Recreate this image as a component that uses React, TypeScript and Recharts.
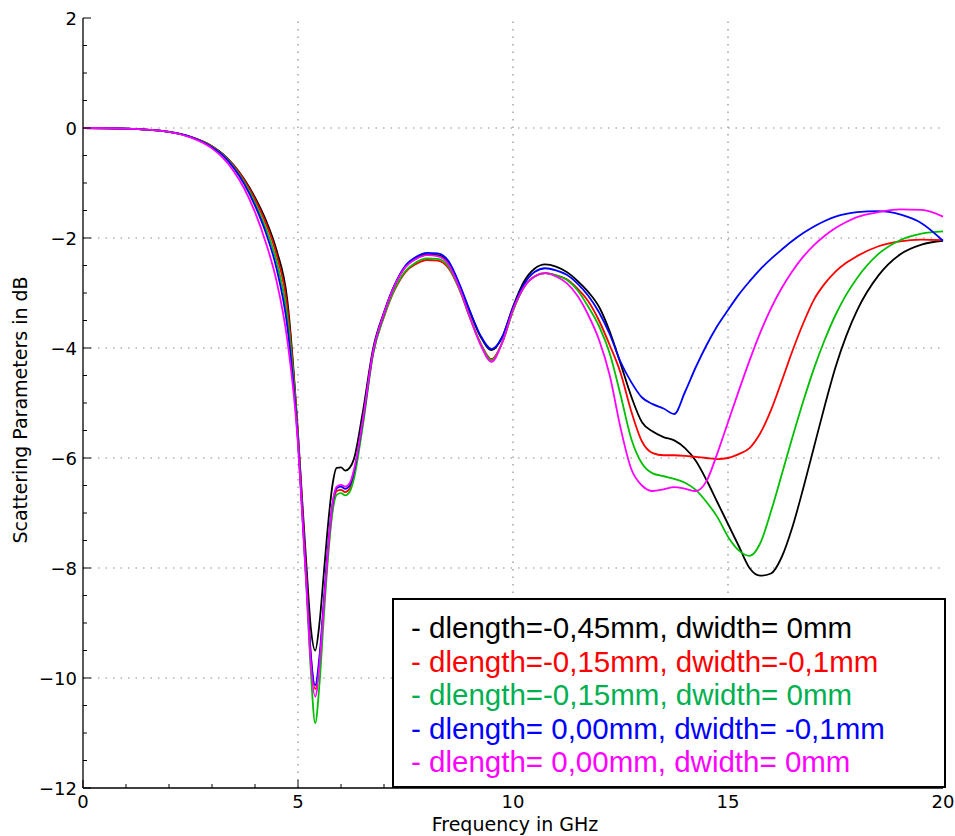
import React from 'react';
import { LineChart, Line, XAxis, YAxis, ReferenceLine, Legend } from 'recharts';

const FREQ = [0, 1, 2, 2.5, 3, 3.25, 3.5, 3.75, 4, 4.25, 4.5, 4.75, 5, 5.1, 5.2, 5.3, 5.4, 5.5, 5.6, 5.7, 5.8, 5.9, 6, 6.1, 6.2, 6.3, 6.5, 6.75, 7, 7.25, 7.5, 7.75, 8, 8.25, 8.5, 8.75, 9, 9.25, 9.5, 9.75, 10, 10.25, 10.5, 10.75, 11, 11.25, 11.5, 11.75, 12, 12.25, 12.5, 12.75, 13, 13.25, 13.5, 13.75, 14, 14.25, 14.5, 14.75, 15, 15.25, 15.5, 15.75, 16, 16.25, 16.5, 16.75, 17, 17.25, 17.5, 17.75, 18, 18.5, 19, 19.5, 20];

const S_BLACK = [0, -0.01, -0.07, -0.16, -0.33, -0.47, -0.67, -0.93, -1.26, -1.67, -2.22, -3.12, -5.55,
  -6.8, -8.0, -9.1, -9.5, -9.0, -8.1, -7.2, -6.5, -6.18, -6.17, -6.23, -6.18, -6.02,
  -5.2, -4.0, -3.35, -2.85, -2.52, -2.37, -2.3, -2.31, -2.45, -2.85, -3.35, -3.8, -4.04, -3.8, -3.25, -2.8, -2.56, -2.48, -2.52,
  -2.62, -2.78, -2.98, -3.25, -3.7, -4.28, -4.88, -5.35, -5.52, -5.62, -5.68, -5.82, -6.05, -6.4, -6.8, -7.2,
  -7.6, -8.0, -8.14, -8.1, -7.8, -7.25, -6.55, -5.8, -5.05, -4.35, -3.78, -3.32,
  -2.68, -2.3, -2.12, -2.05];

const S_RED = [0, -0.01, -0.07, -0.16, -0.33, -0.48, -0.68, -0.95, -1.3, -1.73, -2.3, -3.25, -5.6,
  -6.9, -8.2, -9.6, -10.2, -9.7, -8.7, -7.7, -6.95, -6.6, -6.58, -6.62, -6.56, -6.3,
  -5.4, -4.08, -3.43, -2.94, -2.62, -2.47, -2.4, -2.41, -2.55, -2.93, -3.45, -3.92, -4.2, -3.9, -3.32, -2.9, -2.7, -2.64, -2.68,
  -2.75, -2.92, -3.15, -3.5, -3.95, -4.45, -5.15, -5.7, -5.91, -5.95, -5.95, -5.96, -5.98, -6.0, -6.02, -6.0,
  -5.93, -5.82, -5.55, -5.13, -4.6, -4.05, -3.55, -3.12, -2.83, -2.61, -2.45, -2.33,
  -2.15, -2.06, -2.03, -2.04];

const S_GREEN = [0, -0.01, -0.07, -0.16, -0.34, -0.49, -0.7, -0.99, -1.36, -1.82, -2.42, -3.42, -5.65,
  -7.0, -8.4, -9.9, -10.82, -10.1, -8.9, -7.8, -7.0, -6.67, -6.64, -6.68, -6.62, -6.38,
  -5.45, -4.1, -3.42, -2.92, -2.6, -2.44, -2.37, -2.38, -2.52, -2.92, -3.45, -3.93, -4.22, -3.9, -3.32, -2.9, -2.7, -2.64, -2.68,
  -2.76, -2.95, -3.25, -3.6, -4.1, -4.85, -5.65, -6.1, -6.28, -6.33, -6.38, -6.45, -6.58, -6.8, -7.07, -7.43,
  -7.68, -7.78, -7.55, -6.97, -6.3, -5.62, -4.97, -4.37, -3.85, -3.4, -3.03, -2.73,
  -2.29, -2.04, -1.92, -1.88];

const S_BLUE = [0, -0.01, -0.07, -0.16, -0.35, -0.5, -0.72, -1.02, -1.41, -1.9, -2.55, -3.6, -5.7,
  -7.0, -8.3, -9.6, -10.13, -9.6, -8.6, -7.6, -6.85, -6.55, -6.52, -6.56, -6.5, -6.25,
  -5.35, -4.05, -3.37, -2.85, -2.5, -2.34, -2.27, -2.28, -2.42, -2.83, -3.33, -3.78, -4.02, -3.8, -3.27, -2.85, -2.62, -2.55, -2.59,
  -2.67, -2.83, -3.05, -3.35, -3.75, -4.25, -4.62, -4.9, -5.02, -5.1, -5.2, -4.8, -4.35, -3.95, -3.6, -3.31,
  -3.03, -2.79, -2.57, -2.38, -2.21, -2.05, -1.91, -1.79, -1.69, -1.61, -1.56, -1.53,
  -1.51, -1.57, -1.73, -2.05];

const S_MAGENTA = [0, -0.01, -0.07, -0.17, -0.37, -0.54, -0.78, -1.1, -1.53, -2.08, -2.78, -3.85, -5.75,
  -7.05, -8.4, -9.75, -10.34, -9.75, -8.7, -7.65, -6.85, -6.52, -6.49, -6.52, -6.46, -6.22,
  -5.35, -4.05, -3.37, -2.86, -2.53, -2.38, -2.31, -2.33, -2.48, -2.9, -3.45, -3.95, -4.25, -3.9, -3.3, -2.9, -2.7, -2.64, -2.7,
  -2.82, -3.05, -3.4, -3.85, -4.5, -5.45, -6.2, -6.5, -6.6, -6.57, -6.53, -6.56, -6.6, -6.42, -5.92, -5.35,
  -4.78, -4.23, -3.72, -3.28, -2.91, -2.6, -2.34, -2.13, -1.96, -1.82, -1.71, -1.62,
  -1.53, -1.48, -1.49, -1.61];

const SERIES_NAMES = [
  '- dlength=-0,45mm, dwidth= 0mm',
  '- dlength=-0,15mm, dwidth=-0,1mm',
  '- dlength=-0,15mm, dwidth= 0mm',
  '- dlength= 0,00mm, dwidth= -0,1mm',
  '- dlength= 0,00mm, dwidth= 0mm',
];
const SERIES_KEYS = ['black', 'red', 'green', 'blue', 'magenta'];
const SERIES_VALUES = [S_BLACK, S_RED, S_GREEN, S_BLUE, S_MAGENTA];
const LINE_COLORS = ['#000000', '#ff0000', '#00bf00', '#0000ff', '#ff00ff'];
const TEXT_COLORS = ['#000000', '#ff0000', '#00b050', '#0000ff', '#ff00ff'];

const X_TICKS = [0, 1, 2, 3, 4, 5, 6, 7, 8, 9, 10, 11, 12, 13, 14, 15, 16, 17, 18, 19, 20];
const X_LABELS = [0, 5, 10, 15, 20];
const Y_TICKS = [-12, -11.5, -11, -10.5, -10, -9.5, -9, -8.5, -8, -7.5, -7, -6.5, -6, -5.5, -5, -4.5, -4, -3.5, -3, -2.5, -2, -1.5, -1, -0.5, 0, 0.5, 1, 1.5, 2];
const Y_LABELS = [-12, -10, -8, -6, -4, -2, 0, 2];
const GRID_X = [5, 10, 15];
const GRID_Y = [-10, -8, -6, -4, -2, 0];

const data = FREQ.map((f, i) => {
  const row: any = { f };
  SERIES_KEYS.forEach((k, j) => { row[k] = SERIES_VALUES[j][i]; });
  return row;
});

const fmt = (v: number) => (v < 0 ? '\u2212' + Math.abs(v) : String(v));
const TICK_FONT = 'DejaVu Sans, Verdana, sans-serif';

const BottomTick = (p: any) => {
  const v = p.payload.value;
  const major = X_LABELS.includes(v);
  return (
    <g>
      <line x1={p.x} y1={p.y} x2={p.x} y2={p.y - (major ? 8 : 4)} stroke="#000" strokeWidth={1} />
      {major && (
        <text x={p.x} y={p.y + 20} textAnchor="middle" fontSize={18} fontFamily={TICK_FONT} fill="#000">{fmt(v)}</text>
      )}
    </g>
  );
};
const TopTick = (p: any) => {
  const v = p.payload.value;
  const major = X_LABELS.includes(v);
  return <line x1={p.x} y1={p.y} x2={p.x} y2={p.y + (major ? 8 : 4)} stroke="#000" strokeWidth={1} />;
};
const LeftTick = (p: any) => {
  const v = p.payload.value;
  const major = Y_LABELS.includes(v);
  return (
    <g>
      <line x1={p.x} y1={p.y} x2={p.x + (major ? 8 : 4)} y2={p.y} stroke="#000" strokeWidth={1} />
      {major && (
        <text x={p.x - 6} y={p.y + 6.5} textAnchor="end" fontSize={18} fontFamily={TICK_FONT} fill="#000">{fmt(v)}</text>
      )}
    </g>
  );
};
const RightTick = (p: any) => {
  const v = p.payload.value;
  const major = Y_LABELS.includes(v);
  return <line x1={p.x} y1={p.y} x2={p.x - (major ? 8 : 4)} y2={p.y} stroke="#000" strokeWidth={1} />;
};

const renderLegend = () => (
  <div
    style={{
      boxSizing: 'border-box',
      width: 554,
      height: 190,
      border: '2px solid #000',
      background: '#fff',
      paddingTop: 11,
      paddingLeft: 17,
      fontFamily: 'Liberation Sans, Arial, sans-serif',
      fontSize: 29.5,
    }}
  >
    {SERIES_NAMES.map((n, i) => (
      <div key={n} style={{ color: TEXT_COLORS[i], height: 33.6, lineHeight: '33.6px', whiteSpace: 'pre' }}>{n}</div>
    ))}
  </div>
);

export default function App() {
  const axisLine = { stroke: '#000', strokeWidth: 1.3 };
  return (
    <div style={{ position: 'absolute', left: 0, top: 0, width: 955, height: 836, background: '#fff' }}>
      <LineChart width={955} height={836} data={data} margin={{ top: 18, right: 12, left: 0, bottom: 0 }}>
        <XAxis xAxisId="b" dataKey="f" type="number" domain={[0, 20]} ticks={X_TICKS} interval={0} height={48}
          tickSize={0} tickMargin={0} axisLine={axisLine} tickLine={false} tick={<BottomTick />} />
        <XAxis xAxisId="t" orientation="top" dataKey="f" type="number" domain={[0, 20]} ticks={X_TICKS} interval={0} height={0}
          tickSize={0} tickMargin={0} axisLine={axisLine} tickLine={false} tick={<TopTick />} />
        <YAxis yAxisId="l" type="number" domain={[-12, 2]} ticks={Y_TICKS} interval={0} width={83}
          tickSize={0} tickMargin={0} axisLine={axisLine} tickLine={false} tick={<LeftTick />} />
        <YAxis yAxisId="r" orientation="right" type="number" domain={[-12, 2]} ticks={Y_TICKS} interval={0} width={0}
          tickSize={0} tickMargin={0} axisLine={axisLine} tickLine={false} tick={<RightTick />} />
        {GRID_X.map((g) => (
          <ReferenceLine key={'gx' + g} x={g} xAxisId="b" yAxisId="l" stroke="#8c8c8c" strokeWidth={1.2} strokeDasharray="1.5 6" />
        ))}
        {GRID_Y.map((g) => (
          <ReferenceLine key={'gy' + g} y={g} xAxisId="b" yAxisId="l" stroke="#8c8c8c" strokeWidth={1.2} strokeDasharray="1.5 6" />
        ))}
        {SERIES_KEYS.map((k, i) => (
          <Line key={k} xAxisId="b" yAxisId="l" dataKey={k} name={SERIES_NAMES[i]} type="monotone" stroke={LINE_COLORS[i]}
            strokeWidth={1.8} dot={false} activeDot={false} isAnimationActive={false} />
        ))}
        <Legend layout="vertical" align="center" verticalAlign="middle" content={renderLegend}
          wrapperStyle={{ left: 392, top: 598, width: 554, height: 190 }} />
      </LineChart>
      <div style={{ position: 'absolute', left: 515, top: 824, transform: 'translate(-50%, -50%)', whiteSpace: 'nowrap',
        fontFamily: TICK_FONT, fontSize: 19, color: '#000' }}>Frequency in GHz</div>
      <div style={{ position: 'absolute', left: 20, top: 410, transform: 'translate(-50%, -50%) rotate(-90deg)', whiteSpace: 'nowrap',
        fontFamily: TICK_FONT, fontSize: 19, color: '#000' }}>Scattering Parameters in dB</div>
    </div>
  );
}
